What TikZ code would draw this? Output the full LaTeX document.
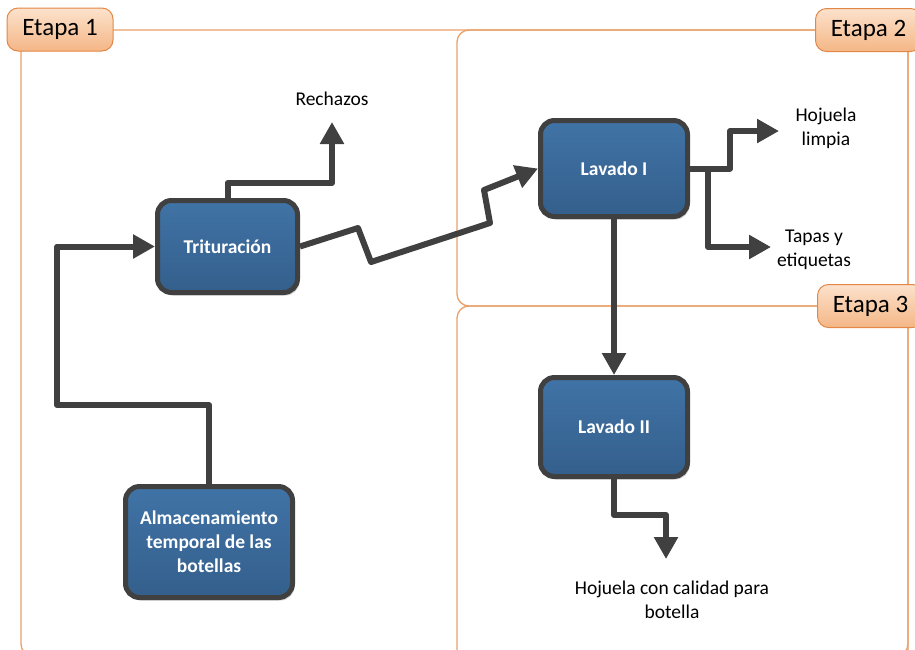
\documentclass[tikz,border=0pt]{standalone}
\usepackage{fontspec}
\setmainfont{Carlito}
\usepackage{tikz}
\usetikzlibrary{arrows.meta, positioning, calc, shadows}
\definecolor{azularriba}{RGB}{64,115,166}
\definecolor{azulabajo}{RGB}{52,95,140}
\definecolor{grisflecha}{RGB}{64,64,64}
\definecolor{naranjaborde}{RGB}{226,135,70}
\definecolor{naranjalinea}{RGB}{234,160,105}
\definecolor{naranjaclaro}{RGB}{252,226,204}
\definecolor{naranjaoscuro}{RGB}{244,182,134}

\begin{document}
\begin{tikzpicture}[
  x=1pt, y=-1pt,
  caja/.style={draw=grisflecha, line width=5pt, rounded corners=14pt,
               top color=azularriba, bottom color=azulabajo, align=center,
               text=white, font=\fontsize{19.5}{24}\selectfont\bfseries,
               drop shadow={shadow xshift=2pt, shadow yshift=-3pt, opacity=0.18, fill=black}},
  etapa/.style={draw=naranjaborde, line width=1pt, rounded corners=11pt,
                top color=naranjaclaro, bottom color=naranjaoscuro,
                minimum width=106pt, minimum height=43pt,
                font=\fontsize{25}{30}\selectfont},
  marco/.style={draw=naranjalinea, line width=1.3pt, rounded corners=12pt},
  texto/.style={align=center, font=\fontsize{19.5}{24}\selectfont},
  flecha/.style={-{Triangle[length=22pt, width=23pt]}, line width=6pt,
                 color=grisflecha, line join=round}
]
\useasboundingbox (0,0) rectangle (915,649);
\clip (0,0) rectangle (915,649);

% carriles
\draw[marco] (21,30) rectangle (908,656);
\draw[marco] (457,30) rectangle (908,306);
\draw[marco] (457,306) rectangle (908,680);

\node[etapa] (e1) at (60,29.5) {Etapa 1};
\node[etapa, anchor=west] (e2) at (815,30) {Etapa 2};
\node[etapa, anchor=west] (e3) at (817,306) {Etapa 3};

% textos de salida
\node[texto] (rechazos) at (332,99) {Rechazos};
\node[texto] (hojuela) at (826,128) {Hojuela\\limpia};
\node[texto] (tapas) at (814,250) {Tapas y\\etiquetas};
\node[texto] (calidad) at (672,600) {Hojuela con calidad para\\botella};

\coordinate (c1) at (57,405);
\coordinate (p-rech) at (332,122);
\coordinate (p-hoj) at (779,131);
\coordinate (p-tap) at (771,247);
\coordinate (p-fin) at (666,559);

% cajas
\node[caja, minimum width=140pt, minimum height=92pt] (trit) at (227.5,246.5) {Trituración};
\node[caja, minimum width=147pt, minimum height=96pt] (lav1) at (614,168.5) {Lavado I};
\node[caja, minimum width=147pt, minimum height=99pt] (lav2) at (614,427) {Lavado II};
\node[caja, minimum width=167pt, minimum height=111pt] (alm) at (209,542)
  {Almacenamiento\\temporal de las\\botellas};

\draw[flecha] (alm.north) |- (c1) |- (trit.west);
\draw[flecha] (trit.north) -- ++(0,-15) -| (p-rech);
\draw[flecha] (trit.east) -- (358,228) -- (371,262) -- (490,223) -- (484,190) -- (lav1.west);
\draw[flecha] (lav1.east) -- ++(40,0) |- (p-hoj);
\draw[flecha] ($(lav1.east)+(18,0)$) |- (p-tap);
\draw[flecha] (lav1) -- (lav2);
\draw[flecha] (lav2.south) -- ++(0,36) -| (p-fin);
\end{tikzpicture}
\end{document}
